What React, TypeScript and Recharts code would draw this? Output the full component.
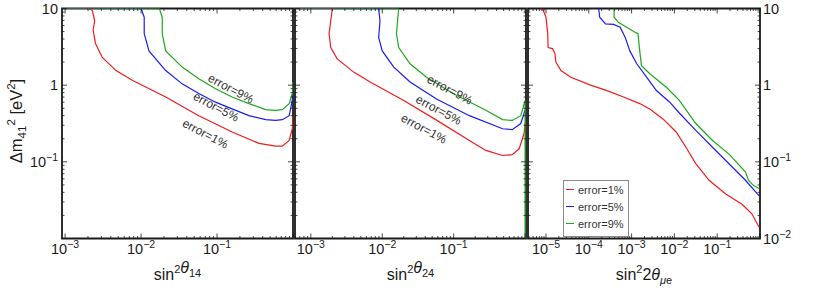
import React from 'react';
import { ComposedChart, Line, Scatter, XAxis, YAxis, ReferenceArea, Legend } from 'recharts';

const W = 822;
const H = 291;
const TOP = 8.5;
const BOTTOM = 238.5;
const FONT = "'Liberation Sans', Arial, Helvetica, sans-serif";
const INK = '#1a1a1a';

const RED = '#f01c1c';
const BLUE = '#1c1cf0';
const GREEN = '#1ea81e';

// axes
const yDomain: [number, number] = [0.01, 10];
const yDecades = [0.01, 0.1, 1];
const mantissas = [1, 2, 3, 4, 5, 6, 7, 8, 9];

const p1Domain: [number, number] = [9.1e-4, 1];
const p2Domain: [number, number] = [6.0e-4, 1.03];
const p3Domain: [number, number] = [3.8e-6, 1];

const p1Decades = [1e-4, 1e-3, 1e-2, 1e-1];
const p2Decades = [1e-4, 1e-3, 1e-2, 1e-1, 1];
const p3Decades = [1e-6, 1e-5, 1e-4, 1e-3, 1e-2, 1e-1];

const p1Labels = [1e-3, 1e-2, 1e-1];
const p2Labels = [1e-3, 1e-2, 1e-1];
const p3Labels = [1e-5, 1e-4, 1e-3, 1e-2, 1e-1];
const yLabelsLeft = [10, 1, 0.1];
const yLabelsRight = [10, 1, 0.1, 0.01];

// sin^2 theta_14
const p1Red = [
  { x: 9.1e-4, y: 10 }, { x: 0.00207, y: 10 }, { x: 0.00229, y: 9.4 }, { x: 0.00245, y: 6.9 },
  { x: 0.00234, y: 5.2 }, { x: 0.00251, y: 3.5 }, { x: 0.00309, y: 2.3 }, { x: 0.00468, y: 1.55 },
  { x: 0.00776, y: 1.15 }, { x: 0.0211, y: 0.7 }, { x: 0.0575, y: 0.4 }, { x: 0.158, y: 0.245 },
  { x: 0.357, y: 0.174 }, { x: 0.589, y: 0.16 }, { x: 0.724, y: 0.16 }, { x: 0.891, y: 0.19 },
  { x: 0.98, y: 0.27 }, { x: 1, y: 0.4 },
];
const p1Blue = [
  { x: 9.1e-4, y: 10 }, { x: 0.01, y: 10 }, { x: 0.011, y: 7.7 }, { x: 0.011, y: 4.7 },
  { x: 0.0127, y: 2.8 }, { x: 0.0211, y: 1.55 }, { x: 0.0347, y: 1.04 }, { x: 0.0575, y: 0.78 },
  { x: 0.0955, y: 0.6 }, { x: 0.158, y: 0.49 }, { x: 0.263, y: 0.4 }, { x: 0.437, y: 0.355 },
  { x: 0.589, y: 0.347 }, { x: 0.724, y: 0.355 }, { x: 0.891, y: 0.4 }, { x: 0.98, y: 0.64 },
  { x: 1, y: 0.9 },
];
const p1Green = [
  { x: 9.1e-4, y: 10 }, { x: 0.0174, y: 10 }, { x: 0.019, y: 7.7 }, { x: 0.019, y: 4.7 },
  { x: 0.0211, y: 2.8 }, { x: 0.0347, y: 1.72 }, { x: 0.0575, y: 1.21 }, { x: 0.0955, y: 0.9 },
  { x: 0.158, y: 0.7 }, { x: 0.263, y: 0.575 }, { x: 0.437, y: 0.48 }, { x: 0.589, y: 0.47 },
  { x: 0.724, y: 0.48 }, { x: 0.891, y: 0.575 }, { x: 0.98, y: 0.78 }, { x: 1, y: 1.1 },
];

// sin^2 theta_24
const p2Red = [
  { x: 6.0e-4, y: 10 }, { x: 0.002, y: 10 }, { x: 0.0019, y: 6.9 }, { x: 0.0018, y: 4.7 },
  { x: 0.0019, y: 3.1 }, { x: 0.00234, y: 2.2 }, { x: 0.00398, y: 1.48 }, { x: 0.00676, y: 1.1 },
  { x: 0.02, y: 0.63 }, { x: 0.0575, y: 0.35 }, { x: 0.166, y: 0.19 }, { x: 0.282, y: 0.141 },
  { x: 0.484, y: 0.121 }, { x: 0.66, y: 0.124 }, { x: 0.826, y: 0.148 }, { x: 0.968, y: 0.234 },
  { x: 1.0, y: 0.32 },
];
const p2Blue = [
  { x: 6.0e-4, y: 10 }, { x: 0.0089, y: 10 }, { x: 0.0093, y: 6.9 }, { x: 0.0089, y: 4.2 },
  { x: 0.01, y: 2.8 }, { x: 0.0145, y: 1.72 }, { x: 0.0245, y: 1.1 }, { x: 0.0575, y: 0.66 },
  { x: 0.166, y: 0.4 }, { x: 0.484, y: 0.27 }, { x: 0.66, y: 0.263 }, { x: 0.87, y: 0.316 },
  { x: 1.0, y: 0.47 },
];
const p2Green = [
  { x: 6.0e-4, y: 10 }, { x: 0.017, y: 10 }, { x: 0.0158, y: 4.7 }, { x: 0.017, y: 3.1 },
  { x: 0.0245, y: 1.9 }, { x: 0.0417, y: 1.27 }, { x: 0.0977, y: 0.78 }, { x: 0.282, y: 0.47 },
  { x: 0.484, y: 0.355 }, { x: 0.66, y: 0.347 }, { x: 0.87, y: 0.4 }, { x: 1.0, y: 0.63 },
  { x: 1.0, y: 0.01 },
];

// sin^2 2theta_mue
const p3Red = [
  { x: 8.3e-6, y: 10 }, { x: 1.0e-5, y: 7.7 }, { x: 1.1e-5, y: 4.7 }, { x: 1.12e-5, y: 3.1 },
  { x: 1.41e-5, y: 3.0 }, { x: 1.62e-5, y: 2.57 }, { x: 1.7e-5, y: 2.0 }, { x: 2.24e-5, y: 1.55 },
  { x: 3.8e-5, y: 1.27 }, { x: 1.1e-4, y: 1.0 }, { x: 2.66e-4, y: 0.85 }, { x: 6.5e-4, y: 0.7 },
  { x: 1.55e-3, y: 0.575 }, { x: 2.66e-3, y: 0.49 }, { x: 5.4e-3, y: 0.363 }, { x: 0.011, y: 0.245 },
  { x: 0.0186, y: 0.155 }, { x: 0.0316, y: 0.095 }, { x: 0.0646, y: 0.0575 }, { x: 0.158, y: 0.038 },
  { x: 0.38, y: 0.028 }, { x: 0.646, y: 0.021 }, { x: 0.955, y: 0.014 },
];
const p3Blue = [
  { x: 1.7e-4, y: 10 }, { x: 1.8e-4, y: 7.7 }, { x: 2.45e-4, y: 6.3 }, { x: 3.8e-4, y: 6.2 },
  { x: 5.4e-4, y: 5.7 }, { x: 7.1e-4, y: 4.2 }, { x: 9.1e-4, y: 2.8 }, { x: 1.32e-3, y: 1.9 },
  { x: 2.24e-3, y: 1.27 }, { x: 3.8e-3, y: 0.85 }, { x: 7.8e-3, y: 0.6 }, { x: 0.0132, y: 0.43 },
  { x: 0.0316, y: 0.257 }, { x: 0.0776, y: 0.155 }, { x: 0.186, y: 0.095 }, { x: 0.457, y: 0.0575 },
  { x: 0.955, y: 0.036 },
];
const p3Green = [
  { x: 3.9e-4, y: 10 }, { x: 3.9e-4, y: 7.7 }, { x: 4.9e-4, y: 6.6 }, { x: 1.2e-3, y: 4.9 },
  { x: 1.41e-3, y: 4.7 }, { x: 1.55e-3, y: 2.8 }, { x: 1.7e-3, y: 1.8 }, { x: 2.66e-3, y: 1.41 },
  { x: 6.5e-3, y: 0.94 }, { x: 0.0132, y: 0.63 }, { x: 0.0316, y: 0.316 }, { x: 0.0776, y: 0.19 },
  { x: 0.186, y: 0.127 }, { x: 0.457, y: 0.074 }, { x: 0.537, y: 0.0575 }, { x: 0.708, y: 0.049 },
  { x: 0.955, y: 0.045 },
];

const p1Notes = [
  { x: 0.152, y: 0.9, text: 'error=9%' },
  { x: 0.097, y: 0.52, text: 'error=5%' },
  { x: 0.07, y: 0.232, text: 'error=1%' },
];
const p2Notes = [
  { x: 0.088, y: 0.87, text: 'error=9%' },
  { x: 0.0617, y: 0.475, text: 'error=5%' },
  { x: 0.0383, y: 0.27, text: 'error=1%' },
];

const buildTicks = (decades: number[], domain: [number, number]) =>
  decades
    .flatMap((d) => mantissas.map((m) => Number((d * m).toPrecision(3))))
    .concat([decades[decades.length - 1] * 10])
    .filter((v) => v >= domain[0] * 0.9999 && v <= domain[1] * 1.0001);

const isDecade = (v: number) => Math.abs(Math.log10(v) - Math.round(Math.log10(v))) < 1e-6;
const inList = (list: number[], v: number) => list.some((l) => Math.abs(l - v) / l < 1e-6);

const PowerLabel = ({ x, y, v, anchor }: { x: number; y: number; v: number; anchor: string }) => {
  const e = Math.round(Math.log10(v));
  const common = { x, y, textAnchor: anchor as any, fontSize: 14.5, fontFamily: FONT, fill: INK };
  if (e === 0) return <text {...common}>1</text>;
  if (e === 1) return <text {...common}>10</text>;
  return (
    <text {...common}>
      <tspan>10</tspan>
      <tspan dy={-6} fontSize={10.5}>{'\u2212' + -e}</tspan>
    </text>
  );
};

interface Panel {
  left: number;
  right: number;
  domain: [number, number];
  xTicks: number[];
  xLabels: number[];
  yLabels: number[];
  ySide: 'left' | 'right';
  red: { x: number; y: number }[];
  blue: { x: number; y: number }[];
  green: { x: number; y: number }[];
  notes: { x: number; y: number; text: string }[];
  sub: React.ReactNode;
  legend: boolean;
}

const yTicks = buildTicks(yDecades, yDomain);

const panels: Panel[] = [
  {
    left: 62, right: 293, domain: p1Domain, xTicks: buildTicks(p1Decades, p1Domain), xLabels: p1Labels,
    yLabels: yLabelsLeft, ySide: 'left', red: p1Red, blue: p1Blue, green: p1Green, notes: p1Notes,
    sub: <tspan dy={4} fontSize={11}>14</tspan>, legend: false,
  },
  {
    left: 295, right: 526, domain: p2Domain, xTicks: buildTicks(p2Decades, p2Domain), xLabels: p2Labels,
    yLabels: [], ySide: 'left', red: p2Red, blue: p2Blue, green: p2Green, notes: p2Notes,
    sub: <tspan dy={4} fontSize={11}>24</tspan>, legend: false,
  },
  {
    left: 528, right: 760, domain: p3Domain, xTicks: buildTicks(p3Decades, p3Domain), xLabels: p3Labels,
    yLabels: yLabelsRight, ySide: 'right', red: p3Red, blue: p3Blue, green: p3Green, notes: [],
    sub: (
      <tspan dy={4} fontSize={11}>
        <tspan fontStyle="italic">μ</tspan>e
      </tspan>
    ),
    legend: true,
  },
];

const makeXTick = (p: Panel) => (props: any) => {
  const { x, payload } = props;
  const v = payload.value;
  const len = isDecade(v) ? 5 : 2.5;
  return (
    <g>
      <line x1={x} x2={x} y1={BOTTOM} y2={BOTTOM - len} stroke={INK} strokeWidth={0.8} />
      <line x1={x} x2={x} y1={TOP} y2={TOP + len} stroke={INK} strokeWidth={0.8} />
      {inList(p.xLabels, v) && <PowerLabel x={x} y={254} v={v} anchor="middle" />}
    </g>
  );
};

const makeYTick = (p: Panel) => (props: any) => {
  const { y, payload } = props;
  const v = payload.value;
  const len = isDecade(v) ? 5 : 2.5;
  const lx = p.ySide === 'left' ? p.left - 4 : p.right + 3;
  return (
    <g>
      <line x1={p.left} x2={p.left + len} y1={y} y2={y} stroke={INK} strokeWidth={0.8} />
      <line x1={p.right} x2={p.right - len} y1={y} y2={y} stroke={INK} strokeWidth={0.8} />
      {inList(p.yLabels, v) && (
        <PowerLabel x={lx} y={y + 5} v={v} anchor={p.ySide === 'left' ? 'end' : 'start'} />
      )}
    </g>
  );
};

const NoteShape = (props: any) => {
  const { cx, cy, payload } = props;
  return (
    <text
      x={cx}
      y={cy}
      transform={`rotate(28 ${cx} ${cy})`}
      textAnchor="middle"
      dominantBaseline="central"
      fontSize={12}
      fontFamily={FONT}
      fill="#333"
    >
      {payload.text}
    </text>
  );
};

const renderLegend = (props: any) => (
  <div
    style={{
      border: '1px solid #8a8a8a',
      background: '#fff',
      width: 66,
      height: 57,
      boxSizing: 'border-box',
      padding: '0 0 0 2px',
      fontFamily: FONT,
      fontSize: 11,
      color: '#333',
    }}
  >
    {(props.payload || []).map((e: any) => (
      <div key={e.value} style={{ display: 'flex', alignItems: 'center', height: 17 }}>
        <span style={{ width: 8, height: 0, borderTop: `1.3px solid ${e.color}`, marginRight: 4 }} />
        <span>{e.value}</span>
      </div>
    ))}
  </div>
);

const PanelChart = ({ p }: { p: Panel }) => {
  const right = p.ySide === 'right';
  const margin = right
    ? { top: TOP, bottom: 0, left: p.left, right: 0 }
    : p.yLabels.length
      ? { top: TOP, bottom: 0, left: 0, right: W - p.right }
      : { top: TOP, bottom: 0, left: p.left - 1, right: W - p.right };
  const yWidth = right ? W - p.right : p.yLabels.length ? p.left : 1;
  const cx = (p.left + p.right) / 2;
  return (
    <div style={{ position: 'absolute', left: 0, top: 0 }}>
      <ComposedChart width={W} height={H} margin={margin}>
        <XAxis
          dataKey="x"
          type="number"
          scale="log"
          domain={p.domain}
          allowDataOverflow
          ticks={p.xTicks}
          interval={0}
          tick={makeXTick(p)}
          tickLine={false}
          axisLine={false}
          height={H - BOTTOM}
          label={{
            content: () => (
              <text x={cx} y={279.5} textAnchor="middle" fontSize={16} fontFamily={FONT} fill={INK}>
                <tspan>sin</tspan>
                <tspan dy={-7} fontSize={11}>2</tspan>
                <tspan dy={7}>{right ? '2' : ''}</tspan>
                <tspan fontStyle="italic">θ</tspan>
                {p.sub}
              </text>
            ),
          }}
        />
        <YAxis
          dataKey="y"
          type="number"
          scale="log"
          orientation={right ? 'right' : 'left'}
          domain={yDomain}
          allowDataOverflow
          ticks={yTicks}
          interval={0}
          tick={makeYTick(p)}
          tickLine={false}
          axisLine={false}
          width={yWidth}
          label={
            p.ySide === 'left' && p.yLabels.length
              ? {
                  content: () => (
                    <text
                      x={21.5}
                      y={121}
                      transform="rotate(-90 21.5 121)"
                      textAnchor="middle"
                      fontSize={16.5}
                      fontFamily={FONT}
                      fill={INK}
                    >
                      <tspan>Δm</tspan>
                      <tspan dy={4} fontSize={11.5}>41</tspan>
                      <tspan dy={-11} fontSize={11.5}>2</tspan>
                      <tspan dy={7}> [eV</tspan>
                      <tspan dy={-7} fontSize={11.5}>2</tspan>
                      <tspan dy={7}>]</tspan>
                    </text>
                  ),
                }
              : undefined
          }
        />
        <ReferenceArea
          x1={p.domain[0]}
          x2={p.domain[1]}
          y1={yDomain[0]}
          y2={yDomain[1]}
          fill="none"
          fillOpacity={0}
          stroke={INK}
          strokeWidth={1.8}
          ifOverflow="visible"
        />
        <Line data={p.red} dataKey="y" name="error=1%" type="linear" stroke={RED} strokeWidth={1.2} dot={false} isAnimationActive={false} />
        <Line data={p.blue} dataKey="y" name="error=5%" type="linear" stroke={BLUE} strokeWidth={1.2} dot={false} isAnimationActive={false} />
        <Line data={p.green} dataKey="y" name="error=9%" type="linear" stroke={GREEN} strokeWidth={1.2} dot={false} isAnimationActive={false} />
        {p.notes.length > 0 && (
          <Scatter data={p.notes} dataKey="y" legendType="none" shape={NoteShape} isAnimationActive={false} />
        )}
        {p.legend && (
          <Legend
            layout="horizontal"
            verticalAlign="middle"
            align="center"
            wrapperStyle={{ left: 563, top: 180, width: 66, height: 57 }}
            content={renderLegend}
          />
        )}
      </ComposedChart>
    </div>
  );
};

export default function App() {
  return (
    <div style={{ position: 'absolute', left: 0, top: 0, width: W, height: H, background: '#fff' }}>
      {panels.map((p, i) => (
        <PanelChart key={i} p={p} />
      ))}
    </div>
  );
}
